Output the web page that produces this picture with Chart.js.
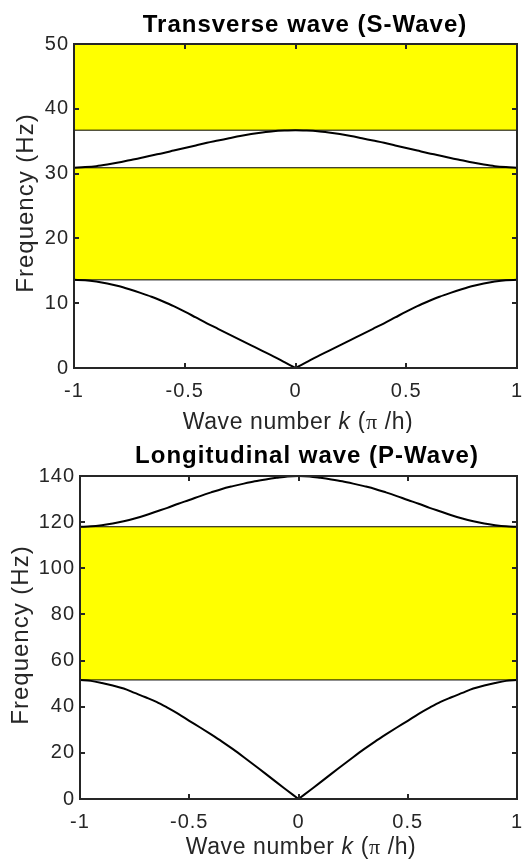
<!DOCTYPE html>
<html>
<head>
<meta charset="utf-8">
<script src="https://cdn.jsdelivr.net/npm/chart.js@4/dist/chart.umd.min.js"></script>
<style>
  html, body { margin: 0; padding: 0; background: #ffffff; }
  #wrap { position: relative; width: 529px; height: 866px; overflow: hidden; }
  .panel { position: absolute; left: 0; width: 529px; height: 433px; }
</style>
</head>
<body>
<div id="wrap">
  <div class="panel" style="top:0"><canvas id="cS" width="529" height="433"></canvas></div>
  <div class="panel" style="top:433px"><canvas id="cP" width="529" height="433"></canvas></div>
</div>
<script>
// ---------------- data ----------------
const kValues = [-1, -0.95, -0.9, -0.85, -0.8, -0.75, -0.7, -0.65, -0.6, -0.55, -0.5,
  -0.45, -0.4, -0.35, -0.3, -0.25, -0.2, -0.15, -0.1, -0.05, 0,
  0.05, 0.1, 0.15, 0.2, 0.25, 0.3, 0.35, 0.4, 0.45, 0.5,
  0.55, 0.6, 0.65, 0.7, 0.75, 0.8, 0.85, 0.9, 0.95, 1];

// Transverse (S-wave) branches, Hz
const sAcousticHz = [13.6, 13.55, 13.35, 13.05, 12.65, 12.15, 11.6, 11.0, 10.3, 9.55, 8.7,
  7.8, 6.9, 6.05, 5.2, 4.35, 3.5, 2.65, 1.8, 0.9, 0,
  0.9, 1.8, 2.65, 3.5, 4.35, 5.2, 6.05, 6.9, 7.8, 8.7,
  9.55, 10.3, 11.0, 11.6, 12.15, 12.65, 13.05, 13.35, 13.55, 13.6];
const sOpticalHz = [30.9, 31.0, 31.15, 31.4, 31.7, 32.05, 32.4, 32.8, 33.15, 33.55, 33.95,
  34.35, 34.75, 35.1, 35.45, 35.8, 36.1, 36.35, 36.55, 36.65, 36.7,
  36.65, 36.55, 36.35, 36.1, 35.8, 35.45, 35.1, 34.75, 34.35, 33.95,
  33.55, 33.15, 32.8, 32.4, 32.05, 31.7, 31.4, 31.15, 31.0, 30.9];
const sBandLow = [13.6, 36.7];
const sBandHigh = [30.9, 50];

// Longitudinal (P-wave) branches, Hz
const pAcousticHz = [51.6, 51.2, 50.3, 49.2, 47.9, 46.0, 44.1, 42.1, 39.6, 36.9, 33.9,
  31.0, 28.0, 24.9, 21.6, 18.1, 14.5, 10.9, 7.2, 3.6, 0,
  3.6, 7.2, 10.9, 14.5, 18.1, 21.6, 24.9, 28.0, 31.0, 33.9,
  36.9, 39.6, 42.1, 44.1, 46.0, 47.9, 49.2, 50.3, 51.2, 51.6];
const pOpticalHz = [118.0, 118.2, 118.7, 119.4, 120.4, 121.6, 123.0, 124.6, 126.2, 128.0, 129.6,
  131.3, 132.9, 134.4, 135.6, 136.7, 137.7, 138.5, 139.2, 139.8, 140,
  139.8, 139.2, 138.5, 137.7, 136.7, 135.6, 134.4, 132.9, 131.3, 129.6,
  128.0, 126.2, 124.6, 123.0, 121.6, 120.4, 119.4, 118.7, 118.2, 118.0];
const pBandLow = [51.6];
const pBandHigh = [118.0];

const sTitle = 'Transverse wave (S-Wave)';
const pTitle = 'Longitudinal wave (P-Wave)';
const yLabel = 'Frequency (Hz)';
const xLabelParts = ['Wave number ', 'k', ' (', 'π', ' /h)'];

// ---------------- helpers ----------------
const SANS = '"Liberation Sans", Arial, Helvetica, sans-serif';
const SERIF = '"Liberation Serif", "Times New Roman", serif';
const AXIS_COLOR = '#262626';
const MID = kValues.indexOf(0);

function pts(ys, from, to) {
  const out = [];
  for (let i = from; i <= to; i++) out.push({ x: kValues[i], y: ys[i] });
  return out;
}

function bandDatasets(lows, highs) {
  const out = [];
  const x0 = kValues[0], x1 = kValues[kValues.length - 1];
  lows.forEach((lo, i) => {
    const hi = highs[i];
    out.push({ data: [{ x: x0, y: lo }, { x: x1, y: lo }],
      borderColor: '#000000', borderWidth: 1, pointRadius: 0, fill: false, order: 2 });
    out.push({ data: [{ x: x0, y: hi }, { x: x1, y: hi }],
      borderColor: '#000000', borderWidth: 1, pointRadius: 0, fill: '-1',
      backgroundColor: '#ffff00', order: 2 });
  });
  return out;
}

function curveParts(ys, splitAtCusp) {
  const base = { borderColor: '#000000', borderWidth: 2, pointRadius: 0,
    fill: false, cubicInterpolationMode: 'monotone', order: 0 };
  if (splitAtCusp) {
    return [Object.assign({ data: pts(ys, 0, MID) }, base),
            Object.assign({ data: pts(ys, MID, kValues.length - 1) }, base)];
  }
  return [Object.assign({ data: pts(ys, 0, kValues.length - 1) }, base)];
}

function decorPlugin(cfg) {
  return {
    id: 'decor',
    beforeDraw(chart) {
      // slightly wider glyph spacing for tick labels, like the reference rendering
      chart.ctx.letterSpacing = '1px';
    },
    afterDraw(chart) {
      const { ctx, chartArea: a, scales } = chart;
      const x = scales.x, y = scales.y;
      ctx.save();
      ctx.strokeStyle = AXIS_COLOR;
      ctx.lineWidth = 2;
      ctx.strokeRect(Math.round(a.left), Math.round(a.top),
        Math.round(a.right - a.left), Math.round(a.bottom - a.top));
      ctx.beginPath();
      x.ticks.forEach(t => {
        const px = Math.round(x.getPixelForValue(t.value));
        ctx.moveTo(px, a.bottom); ctx.lineTo(px, a.bottom - 5);
        ctx.moveTo(px, a.top); ctx.lineTo(px, a.top + 5);
      });
      y.ticks.forEach(t => {
        const py = Math.round(y.getPixelForValue(t.value));
        ctx.moveTo(a.left, py); ctx.lineTo(a.left + 5, py);
        ctx.moveTo(a.right, py); ctx.lineTo(a.right - 5, py);
      });
      ctx.stroke();

      // title
      ctx.fillStyle = '#000000';
      ctx.font = 'bold 24px ' + SANS;
      ctx.letterSpacing = '1px';
      ctx.textAlign = 'center';
      ctx.textBaseline = 'alphabetic';
      ctx.fillText(cfg.title, cfg.titleX, cfg.titleY);

      // y label (rotated)
      ctx.fillStyle = AXIS_COLOR;
      ctx.font = '24px ' + SANS;
      ctx.letterSpacing = '1px';
      ctx.save();
      ctx.translate(cfg.yLabelX, cfg.yLabelY);
      ctx.rotate(-Math.PI / 2);
      ctx.textAlign = 'center';
      ctx.fillText(yLabel, 0, 0);
      ctx.restore();

      // x label with italic k and serif pi
      const fonts = ['23px ' + SANS, 'italic 23px ' + SANS, '23px ' + SANS, '22px ' + SERIF, '23px ' + SANS];
      ctx.textAlign = 'left';
      ctx.letterSpacing = '0.6px';
      let total = 0;
      const widths = xLabelParts.map((p, i) => { ctx.font = fonts[i]; const w = ctx.measureText(p).width; total += w; return w; });
      let cx = cfg.xLabelX - total / 2;
      xLabelParts.forEach((p, i) => { ctx.font = fonts[i]; ctx.fillText(p, cx, cfg.xLabelY); cx += widths[i]; });
      ctx.restore();
    }
  };
}

function makeChart(id, datasets, yMax, yStep, geo, cfg) {
  return new Chart(document.getElementById(id), {
    type: 'scatter',
    data: { datasets: datasets.map(d => Object.assign({ showLine: true }, d)) },
    options: {
      responsive: false,
      animation: false,
      devicePixelRatio: 1,
      layout: { padding: { top: geo.top, right: 12, left: 0, bottom: 0 } },
      plugins: { legend: { display: false }, tooltip: { enabled: false } },
      scales: {
        x: {
          type: 'linear', min: -1, max: 1,
          ticks: { stepSize: 0.5, padding: 11, color: AXIS_COLOR, maxRotation: 0,
            font: { family: SANS, size: 20 },
            callback: v => String(Number(v.toFixed(2))) },
          grid: { display: false, drawTicks: false },
          border: { display: false },
          afterFit: s => { s.height = geo.xh; s.paddingLeft = 0; s.paddingRight = 0; }
        },
        y: {
          type: 'linear', min: 0, max: yMax,
          ticks: { stepSize: yStep, padding: 5, color: AXIS_COLOR,
            font: { family: SANS, size: 20 } },
          grid: { display: false, drawTicks: false },
          border: { display: false },
          afterFit: s => { s.width = geo.yw; s.paddingTop = 0; s.paddingBottom = 0; }
        }
      }
    },
    plugins: [decorPlugin(cfg)]
  });
}

makeChart('cS',
  [...bandDatasets(sBandLow, sBandHigh), ...curveParts(sAcousticHz, true), ...curveParts(sOpticalHz, false)],
  50, 10,
  { top: 44, xh: 65, yw: 74 },
  { title: sTitle, titleX: 305, titleY: 32, yLabelX: 33, yLabelY: 203, xLabelX: 298, xLabelY: 429 });

makeChart('cP',
  [...bandDatasets(pBandLow, pBandHigh), ...curveParts(pAcousticHz, true), ...curveParts(pOpticalHz, false)],
  140, 20,
  { top: 43, xh: 67, yw: 80 },
  { title: pTitle, titleX: 307, titleY: 30, yLabelX: 28, yLabelY: 202, xLabelX: 301, xLabelY: 421 });
</script>
</body>
</html>
